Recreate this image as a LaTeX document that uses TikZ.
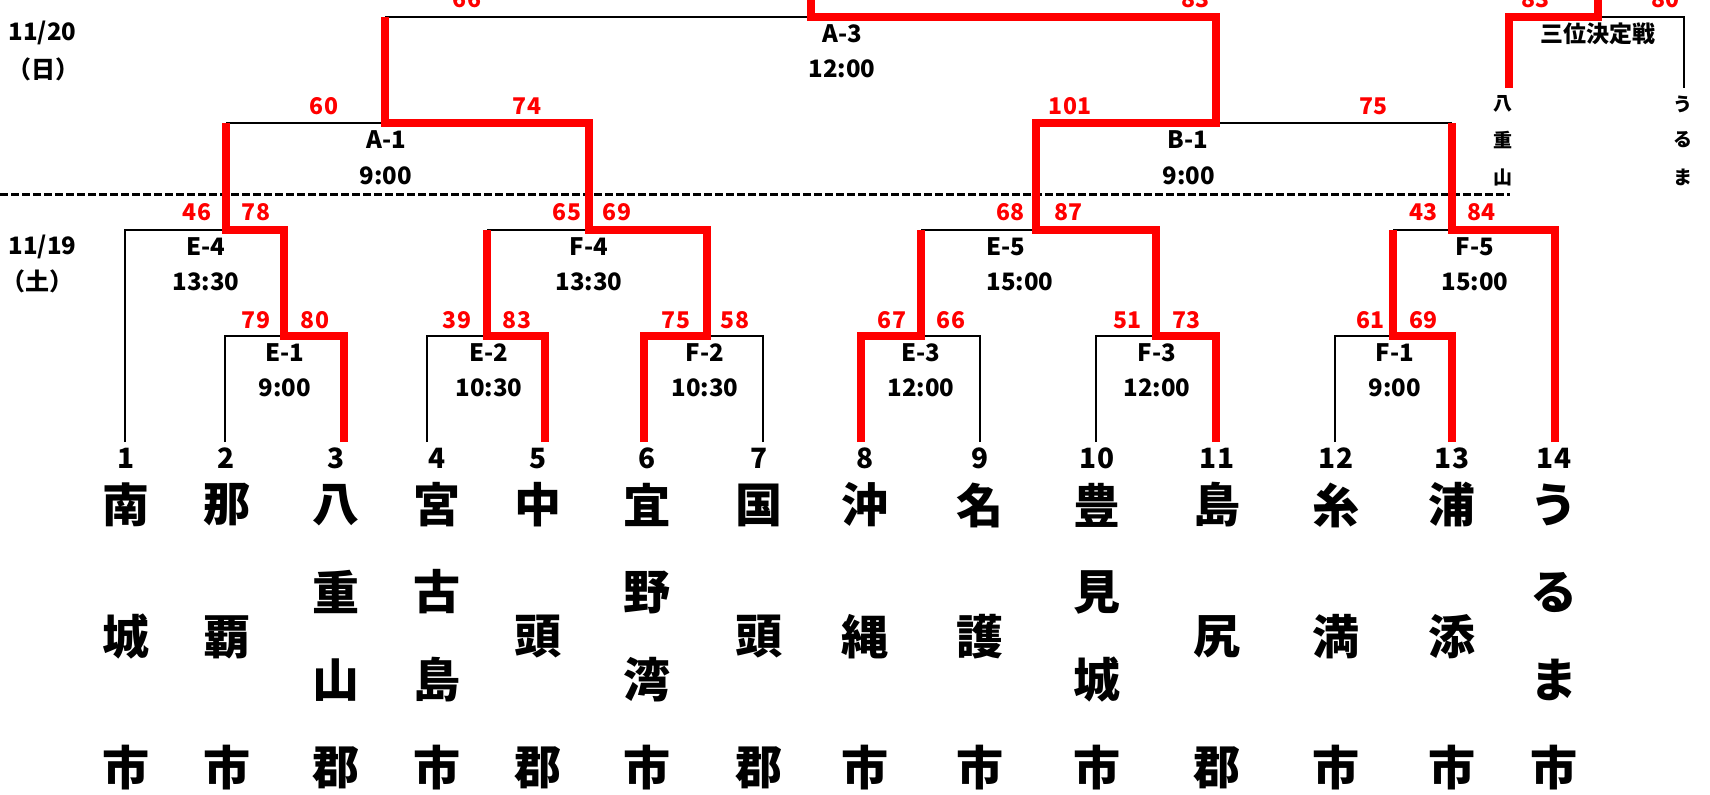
\documentclass[tikz,border=0pt]{standalone}
\usepackage{fontspec}
\setmainfont{Noto Sans CJK JP}
\begin{document}
\begin{tikzpicture}[x=0.5pt,y=-0.5pt,
  blk/.style={line width=1.35pt, black, line join=miter},
  win/.style={line width=3.6pt, red, line join=miter},
  dashline/.style={line width=1.5pt, black, dash pattern=on 4pt off 1.5pt},
  score/.style={text=red, font=\fontsize{11.5}{12}\selectfont\bfseries, inner sep=0pt},
  lbl/.style={font=\fontsize{12}{13}\selectfont\bfseries, inner sep=0pt},
  num/.style={font=\fontsize{14}{15}\selectfont\bfseries, inner sep=0pt},
  nm/.style={font=\fontsize{23.5}{24}\selectfont\bfseries, inner sep=0pt},
  sm/.style={font=\fontsize{9.5}{10}\selectfont\bfseries, inner sep=0pt},
  ttl/.style={font=\fontsize{11.5}{12}\selectfont\bfseries, inner sep=0pt}]
\clip (0,0) rectangle (1710,794);
\fill[white] (0,0) rectangle (1710,794);

% leaf bottoms
\coordinate (l1) at (125,442);  \coordinate (l2) at (225,442);
\coordinate (l3) at (344,442);  \coordinate (l4) at (427,442);
\coordinate (l5) at (545,442);  \coordinate (l6) at (644,442);
\coordinate (l7) at (763,442);  \coordinate (l8) at (861,442);
\coordinate (l9) at (980,442);  \coordinate (l10) at (1096,442);
\coordinate (l11) at (1216,442); \coordinate (l12) at (1335,442);
\coordinate (l13) at (1452,442); \coordinate (l14) at (1555,442);
% match points
\coordinate (e1) at (284,336); \coordinate (e2) at (487,336);
\coordinate (f2) at (707,336); \coordinate (e3) at (921,336);
\coordinate (f3) at (1156,336); \coordinate (f1) at (1393,336);
\coordinate (e4) at (226,230); \coordinate (f4) at (589,230);
\coordinate (e5) at (1036,230); \coordinate (f5) at (1452,230);
\coordinate (a1) at (385,123); \coordinate (b1) at (1216,123);
\coordinate (a3) at (811,17); \coordinate (a3top) at (811,-10);
\coordinate (t3) at (1598,17); \coordinate (t3top) at (1598,-10);
\coordinate (t3l) at (1509,88); \coordinate (t3r) at (1684,88);
\coordinate (d0) at (0,194); \coordinate (d1) at (1510,194);

% dashed day separator
\draw[dashline] (d0) -- (d1);

% black lines
\draw[blk] (l1) |- (e4);
\draw[blk] (l2) |- (e1);
\draw[blk] (l4) |- (e2);
\draw[blk] (l7) |- (f2);
\draw[blk] (l9) |- (e3);
\draw[blk] (l10) |- (f3);
\draw[blk] (l12) |- (f1);
\draw[blk] (e2 |- f4) -- (f4);
\draw[blk] (e3 |- e5) -- (e5);
\draw[blk] (f1 |- f5) -- (f5);
\draw[blk] (e4 |- a1) -- (a1);
\draw[blk] (b1) -- (f5 |- b1);
\draw[blk] (a1 |- a3) -- (a3);
\draw[blk] (t3) -| (t3r);

% winners
\draw[win] (l3) |- (e1) -- (e1 |- e4) -- (e4) -- (e4 |- a1);
\draw[win] (l5) |- (e2) -- (e2 |- f4);
\draw[win] (l6) |- (f2) -- (f2 |- f4) -- (f4) -- (f4 |- a1) -- (a1) -- (a1 |- a3);
\draw[win] (l8) |- (e3) -- (e3 |- e5);
\draw[win] (l11) |- (f3) -- (f3 |- e5) -- (e5) -- (e5 |- b1) -- (b1) -- (b1 |- a3) -- (a3) -- (a3top);
\draw[win] (l13) |- (f1) -- (f1 |- f5);
\draw[win] (l14) |- (f5) -- (f5 |- b1);
\draw[win] (t3l) |- (t3) -- (t3top);

% scores
\node[score] (s66) at (467,-0.5) {66};
\node[score] (s83) at (1195,-0.5) {83};
\node[score] (s3a) at (1535,-0.5) {83};
\node[score] (s3b) at (1665,-0.5) {80};
\node[score] (sa1l) at (324,106) {60};
\node[score] (sa1r) at (527,106) {74};
\node[score] (sb1l) at (1070,106) {101};
\node[score] (sb1r) at (1373,106) {75};
\node[score] (se4l) at (197,212) {46};
\node[score] (se4r) at (256,212) {78};
\node[score] (sf4l) at (567,212) {65};
\node[score] (sf4r) at (617,212) {69};
\node[score] (se5l) at (1010,212) {68};
\node[score] (se5r) at (1068,212) {87};
\node[score] (sf5l) at (1423,212) {43};
\node[score] (sf5r) at (1481,212) {84};
\node[score] (se1l) at (256,320) {79};
\node[score] (se1r) at (315,320) {80};
\node[score] (se2l) at (457,320) {39};
\node[score] (se2r) at (517,320) {83};
\node[score] (sf2l) at (676,320) {75};
\node[score] (sf2r) at (735,320) {58};
\node[score] (se3l) at (892,320) {67};
\node[score] (se3r) at (951,320) {66};
\node[score] (sf3l) at (1127,320) {51};
\node[score] (sf3r) at (1186,320) {73};
\node[score] (sf1l) at (1370,320) {61};
\node[score] (sf1r) at (1423,320) {69};

% match labels
\node[lbl] (ma3) at (842,34) {A-3};   \node[lbl] (ta3) at (842,69) {12:00};
\node[lbl] (ma1) at (386,140) {A-1};  \node[lbl] (ta1) at (386,176) {9:00};
\node[lbl] (mb1) at (1188,140) {B-1}; \node[lbl] (tb1) at (1189,176) {9:00};
\node[lbl] (me4) at (206,247) {E-4};  \node[lbl] (te4) at (206,282) {13:30};
\node[lbl] (mf4) at (589,247) {F-4};  \node[lbl] (tf4) at (589,282) {13:30};
\node[lbl] (me5) at (1006,247) {E-5}; \node[lbl] (te5) at (1020,282) {15:00};
\node[lbl] (mf5) at (1475,247) {F-5}; \node[lbl] (tf5) at (1475,282) {15:00};
\node[lbl] (me1) at (285,353) {E-1};  \node[lbl] (te1) at (285,388) {9:00};
\node[lbl] (me2) at (489,353) {E-2};  \node[lbl] (te2) at (489,388) {10:30};
\node[lbl] (mf2) at (705,353) {F-2};  \node[lbl] (tf2) at (705,388) {10:30};
\node[lbl] (me3) at (921,353) {E-3};  \node[lbl] (te3) at (921,388) {12:00};
\node[lbl] (mf3) at (1157,353) {F-3}; \node[lbl] (tf3) at (1157,388) {12:00};
\node[lbl] (mf1) at (1395,353) {F-1}; \node[lbl] (tf1) at (1395,388) {9:00};

% third place
\node[ttl] (m3) at (1598,34) {三位決定戦};
\node[sm] (p1) at (1503,104) {八};
\node[sm] (p2) at (1503,140) {重};
\node[sm] (p3) at (1503,177) {山};
\node[sm] (q1) at (1683,104) {う};
\node[sm] (q2) at (1683,140) {る};
\node[sm] (q3) at (1683,177) {ま};

% dates
\node[lbl] (d20) at (42.5,33) {11/20};
\node[lbl] (d20w) at (43,69) {（日）};
\node[lbl] (d19) at (42.5,247) {11/19};
\node[lbl] (d19w) at (38,281) {（土）};

% leaf numbers
\foreach \i/\x in {1/126,2/226.5,3/336,4/437,5/538,6/647,7/759,8/865,9/980,10/1097,11/1217,12/1336,13/1452,14/1554}
  \node[num] (k\i) at (\x,458.5) {\i};

% names, three characters
\foreach \i/\x/\a/\b/\c in {1/126/南/城/市, 2/226.5/那/覇/市, 5/538/中/頭/郡, 7/759/国/頭/郡, 8/865/沖/縄/市, 9/980/名/護/市, 11/1217/島/尻/郡, 12/1336/糸/満/市, 13/1452/浦/添/市}{
  \node[nm] (n\i-a) at (\x,505) {\a};
  \node[nm] (n\i-b) at (\x,637) {\b};
  \node[nm] (n\i-c) at (\x,768) {\c};
}
% names, four characters
\foreach \i/\x/\a/\b/\c/\d in {3/336/八/重/山/郡, 4/437/宮/古/島/市, 6/647/宜/野/湾/市, 10/1097/豊/見/城/市, 14/1554/う/る/ま/市}{
  \node[nm] (n\i-a) at (\x,505) {\a};
  \node[nm] (n\i-b) at (\x,592) {\b};
  \node[nm] (n\i-c) at (\x,680) {\c};
  \node[nm] (n\i-d) at (\x,768) {\d};
}
\end{tikzpicture}
\end{document}
